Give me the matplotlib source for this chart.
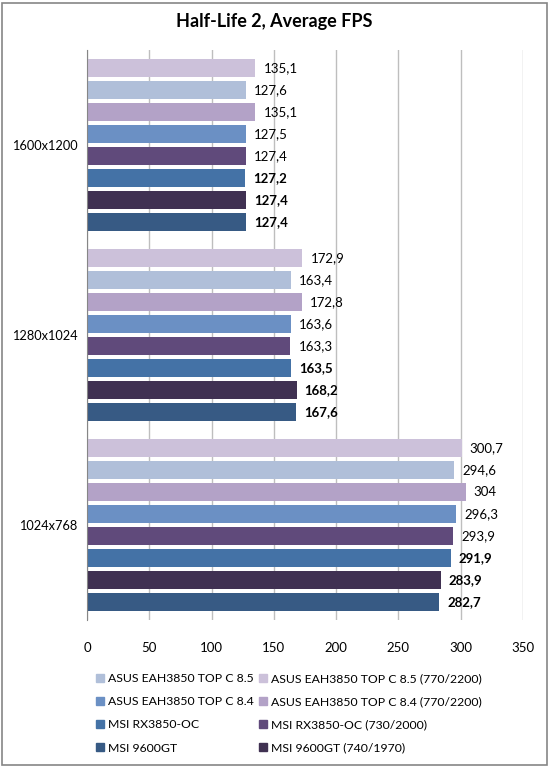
import numpy as np
import matplotlib
matplotlib.use('Agg')
import matplotlib.pyplot as plt
from matplotlib.patches import Rectangle, Patch

plt.rcParams['font.family'] = ['Lato', 'DejaVu Sans']

categories = ['1024x768', '1280x1024', '1600x1200']
# series listed top-to-bottom as drawn inside each group
series = [
    'ASUS EAH3850 TOP C 8.5 (770/2200)',
    'ASUS EAH3850 TOP C 8.5',
    'ASUS EAH3850 TOP C 8.4 (770/2200)',
    'ASUS EAH3850 TOP C 8.4',
    'MSI RX3850-OC (730/2000)',
    'MSI RX3850-OC',
    'MSI 9600GT (740/1970)',
    'MSI 9600GT',
]
colors = ['#CCC1DA', '#B0BFD9', '#B3A2C7', '#6B90C4',
          '#604A7B', '#4472A6', '#403152', '#375A84']
bold = [False, False, False, False, False, True, True, True]

# values per category (1024x768, 1280x1024, 1600x1200), one row per series
values = [
    [300.7, 172.9, 135.1],
    [294.6, 163.4, 127.6],
    [304.0, 172.8, 135.1],
    [296.3, 163.6, 127.5],
    [293.9, 163.3, 127.4],
    [291.9, 163.5, 127.2],
    [283.9, 168.2, 127.4],
    [282.7, 167.6, 127.4],
]
xticks = [0, 50, 100, 150, 200, 250, 300, 350]

def fmt(v):
    s = ('%d' % v) if float(v).is_integer() else ('%.1f' % v)
    return s.replace('.', ',')

fig = plt.figure(figsize=(5.49, 7.68), dpi=100)
ax = fig.add_axes([87 / 549, 1 - 620 / 768, (523 - 87) / 549, 570 / 768])

n = len(series)
pitch = 1 / 8.64
h = pitch * 0.82
ypos = np.arange(len(categories))
for i, (name, c) in enumerate(zip(series, colors)):
    off = (n / 2 - 0.5 - i) * pitch
    ax.barh(ypos + off, values[i], height=h, color=c, label=name, zorder=3)
    for y, v in zip(ypos, values[i]):
        ax.text(v + 6.5, y + off, fmt(v), va='center', ha='left', fontsize=9.5,
                fontweight='bold' if bold[i] else 'normal', color='#000000')

ax.set_xlim(0, 350)
ax.set_ylim(-0.5, 2.5)
ax.set_xticks(xticks)
ax.set_xticklabels([str(t) for t in xticks], fontsize=9.5)
ax.set_yticks(ypos)
ax.set_yticklabels(categories, fontsize=9.2)
ax.tick_params(axis='both', length=0)
ax.tick_params(axis='x', pad=16)
ax.tick_params(axis='y', pad=7)
ax.grid(axis='x', color='#BEBEBE', lw=1, zorder=0)
for s in ('top', 'right', 'bottom'):
    ax.spines[s].set_visible(False)
ax.spines['left'].set_color('#868686')
ax.spines['left'].set_zorder(4)

fig.text(0.5, 1 - 22 / 768, 'Half-Life 2, Average FPS', ha='center', va='center',
         fontsize=13, fontweight='bold')

# legend filled column-first: left column non-OC, right column OC
order = [1, 3, 5, 7, 0, 2, 4, 6]
handles = [Patch(color=colors[k]) for k in order]
labels = [series[k] for k in order]
fig.legend(handles, labels, ncol=2, loc='upper left', bbox_to_anchor=(91 / 549, 1 - 668 / 768),
           frameon=False, fontsize=8.8, handlelength=0.65, handleheight=0.65,
           handletextpad=0.35, columnspacing=0.4, labelspacing=1.0, borderaxespad=0)

fig.patches.append(Rectangle((2 / 549, 3 / 768), 545 / 549, 762 / 768, transform=fig.transFigure,
                             fill=False, edgecolor='#868686', lw=1.2))

fig.savefig('out.png', dpi=100)
